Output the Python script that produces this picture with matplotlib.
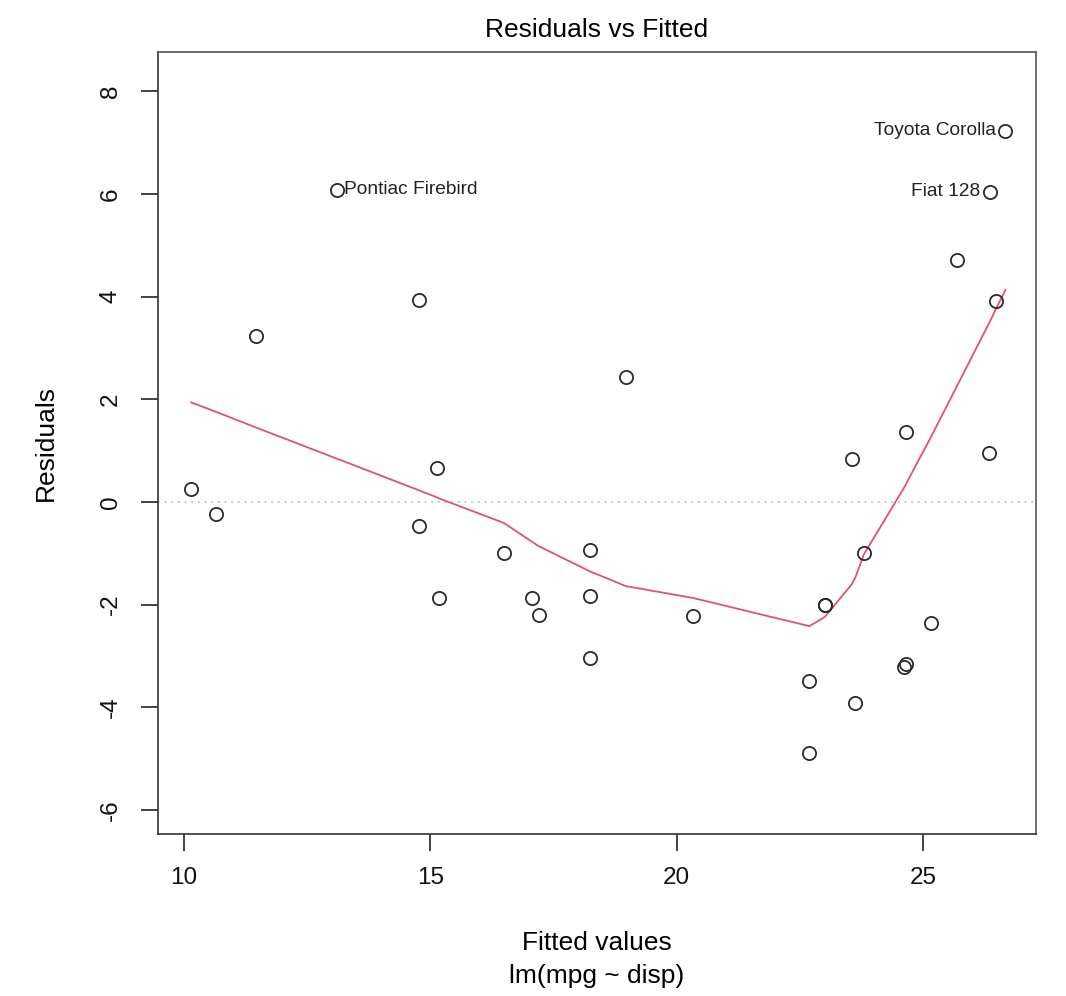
import numpy as np
import matplotlib
matplotlib.use('Agg')
import matplotlib.pyplot as plt

plt.rcParams['font.family'] = ['Liberation Sans', 'DejaVu Sans']

# lm(mpg ~ disp) on mtcars: fitted values and residuals
fitted = [23.005, 23.005, 25.149, 18.966, 14.762, 20.326, 14.762, 23.554,
          23.797, 22.692, 22.692, 18.233, 18.233, 18.233, 10.146, 10.641,
          11.465, 26.356, 26.480, 26.669, 24.650, 16.493, 17.070, 15.175,
          13.114, 26.344, 24.642, 25.680, 15.133, 23.624, 17.194, 24.613]
resid = [-2.005, -2.005, -2.349, 2.434, 3.938, -2.226, -0.462, 0.846,
         -0.997, -3.492, -4.892, -1.833, -0.933, -3.033, 0.254, -0.241,
         3.235, 6.044, 3.920, 7.231, -3.150, -0.993, -1.870, -1.875,
         6.086, 0.956, 1.358, 4.720, 0.667, -3.924, -2.194, -3.213]

# lowess smooth (red line)
smooth_x = [10.146, 10.641, 11.465, 13.114, 14.762, 15.133, 15.175, 16.493,
            17.070, 17.194, 18.233, 18.966, 20.326, 22.692, 23.005, 23.553,
            23.624, 23.797, 24.613, 24.642, 24.650, 25.149, 25.680, 26.344,
            26.356, 26.480, 26.669]
smooth_y = [1.94, 1.76, 1.45, 0.84, 0.23, 0.09, 0.07, -0.41,
            -0.78, -0.86, -1.35, -1.64, -1.87, -2.42, -2.24, -1.60,
            -1.47, -1.02, 0.28, 0.33, 0.35, 1.25, 2.25, 3.50,
            3.52, 3.77, 4.13]

# labelled extreme points: (name, fitted, resid, side)
labels = [('Toyota Corolla', 26.669, 7.231, 'left'),
          ('Fiat 128', 26.356, 6.044, 'left'),
          ('Pontiac Firebird', 13.114, 6.086, 'right')]

x_ticks = [10, 15, 20, 25]
y_ticks = [-6, -4, -2, 0, 2, 4, 6, 8]

fig = plt.figure(figsize=(10.66, 9.96), dpi=100)
ax = fig.add_axes([0.1482, 0.1627, 0.9719 - 0.1482, 0.9478 - 0.1627])

ax.axhline(0, color='#bbbbbb', linestyle=(0, (1, 3)), linewidth=1.2, zorder=1)
ax.plot(fitted, resid, 'o', markersize=9.5, markerfacecolor='none',
        markeredgecolor='#2a2a2a', markeredgewidth=1.3, zorder=3)
ax.plot(smooth_x, smooth_y, color='#DF536B', linewidth=1.3, zorder=2)

for name, fx, ry, side in labels:
    if side == 'left':
        ax.annotate(name, (fx, ry), xytext=(-7, 0), textcoords='offset points',
                    ha='right', va='center', fontsize=13.8, color='#222222')
    else:
        ax.annotate(name, (fx, ry), xytext=(5, 0), textcoords='offset points',
                    ha='left', va='center', fontsize=13.8, color='#222222')

ax.set_xlim(9.472, 27.29)
ax.set_ylim(-6.47, 8.77)
ax.set_xticks(x_ticks)
ax.set_yticks(y_ticks)
ax.set_yticklabels([str(v) for v in y_ticks], rotation=90, va='center')
ax.tick_params(direction='out', length=12, width=1.2, labelsize=17.5,
               color='#222222', labelcolor='#111111')
ax.tick_params(axis='x', pad=12)
ax.tick_params(axis='y', pad=14)
for side, s in ax.spines.items():
    s.set_linewidth(1.2)
    s.set_color('#333333' if side in ('left', 'bottom') else '#555555')

ax.set_title('Residuals vs Fitted', fontsize=19, pad=11)
ax.set_ylabel('Residuals', fontsize=19, labelpad=30)
ax.set_xlabel('Fitted values\nlm(mpg ~ disp)', fontsize=19, labelpad=30,
              linespacing=1.45)

fig.savefig('out.png', dpi=100)
